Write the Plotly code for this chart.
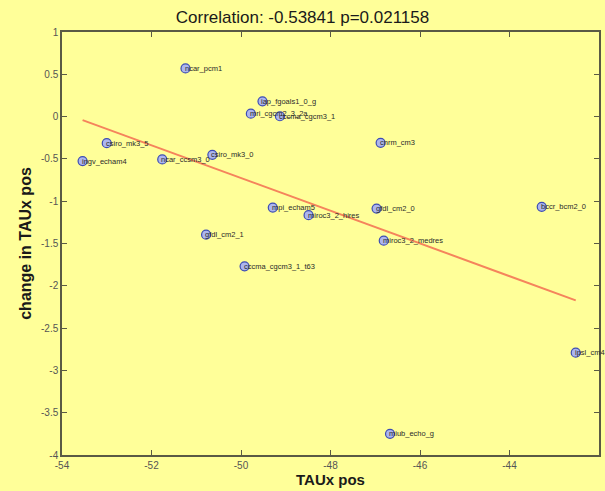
import numpy as np
import plotly.graph_objects as go

# Model names, baseline TAUx position and change in TAUx position
models = [
    "ncar_pcm1", "iap_fgoals1_0_g", "mri_cgcm2_3_2a", "cccma_cgcm3_1",
    "csiro_mk3_5", "csiro_mk3_0", "ingv_echam4", "ncar_ccsm3_0",
    "cnrm_cm3", "mpi_echam5", "miroc3_2_hires", "gfdl_cm2_0",
    "gfdl_cm2_1", "miroc3_2_medres", "cccma_cgcm3_1_t63", "bccr_bcm2_0",
    "ipsl_cm4", "miub_echo_g",
]
taux_pos = [
    -51.24, -49.52, -49.78, -49.13,
    -53.00, -50.64, -53.54, -51.76,
    -46.88, -49.29, -48.49, -46.97,
    -50.78, -46.81, -49.92, -43.28,
    -42.52, -46.67,
]
taux_change = [
    0.57, 0.18, 0.035, 0.004,
    -0.314, -0.452, -0.526, -0.506,
    -0.31, -1.075, -1.165, -1.087,
    -1.396, -1.467, -1.77, -1.067,
    -2.79, -3.75,
]
x_ticks = [-54, -52, -50, -48, -46, -44, -42]
y_ticks = [1, 0.5, 0, -0.5, -1, -1.5, -2, -2.5, -3, -3.5, -4]

bg = "#ffff99"
axis_col = "#5a5a45"
font_family = "Liberation Sans, Arial"

x = np.array(taux_pos)
y = np.array(taux_change)
slope, intercept = np.polyfit(x, y, 1)
x_fit = np.array([x.min(), x.max()])
y_fit = slope * x_fit + intercept

fig = go.Figure()
fig.add_trace(go.Scatter(
    x=x_fit, y=y_fit, mode="lines",
    line=dict(color="#f5845c", width=2),
    hoverinfo="skip", showlegend=False,
))
fig.add_trace(go.Scatter(
    x=taux_pos, y=taux_change, mode="markers",
    marker=dict(size=9, color="#adb6ee", line=dict(color="#3c4cb4", width=1.2)),
    text=models, showlegend=False, cliponaxis=False,
))

for name, xv, yv in zip(models, taux_pos, taux_change):
    fig.add_annotation(
        x=xv, y=yv, text=name, showarrow=False,
        xanchor="left", yanchor="middle", xshift=-3,
        font=dict(family=font_family, size=7.5, color="#2a2a2a"),
    )

axis_common = dict(
    showline=True, linecolor=axis_col, linewidth=1.5, mirror="ticks",
    ticks="inside", ticklen=5, tickcolor=axis_col, tickwidth=1,
    showgrid=False, zeroline=False,
    tickfont=dict(family=font_family, size=10, color="#555555"),
)

fig.update_layout(
    width=605, height=491,
    paper_bgcolor=bg, plot_bgcolor=bg,
    margin=dict(l=62, r=4, t=32, b=36),
    title=dict(
        text="Correlation: -0.53841 p=0.021158",
        x=0.5, xanchor="center", y=0.965, yanchor="middle",
        font=dict(family=font_family, size=17, color="#1a1a1a"),
    ),
    xaxis=dict(
        range=[-54, -42], tickvals=x_ticks, ticktext=[str(v) for v in x_ticks],
        title=dict(text="<b>TAUx pos</b>", standoff=3,
                   font=dict(family=font_family, size=15, color="#1a1a1a")),
        **axis_common,
    ),
    yaxis=dict(
        range=[-4, 1], tickvals=y_ticks, ticktext=[f"{v:g}" for v in y_ticks],
        title=dict(text="<b>change in TAUx pos</b>", standoff=5,
                   font=dict(family=font_family, size=16, color="#1a1a1a")),
        **axis_common,
    ),
)

fig.write_html("out.html")
